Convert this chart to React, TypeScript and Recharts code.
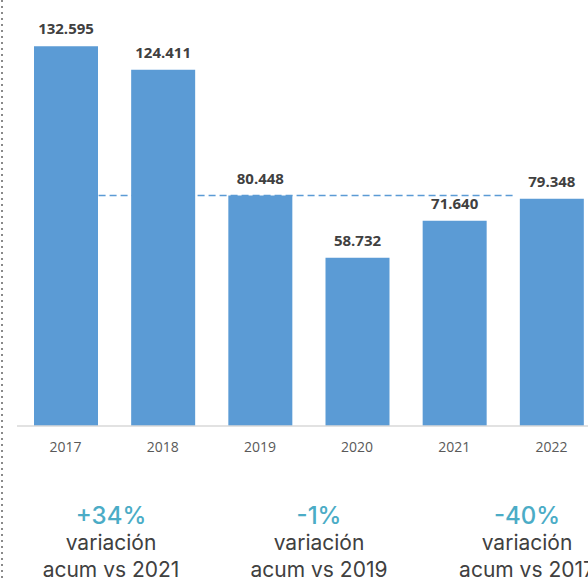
import React from 'react';
import { BarChart, Bar, XAxis, YAxis, LabelList, ReferenceLine } from 'recharts';

const years = ['2017', '2018', '2019', '2020', '2021', '2022'];
const totals = [132595, 124411, 80448, 58732, 71640, 79348];
const refLevel = 80448;

const variations = ['+34%', '-1%', '-40%'];
const comparedTo = ['2021', '2019', '2017'];

const data = years.map((year, i) => ({ year, total: totals[i] }));

const fmt = (v: number) => v.toLocaleString('de-DE');

const BLUE = '#5b9bd5';

// dashed line stops a little before the last bar
const TrimmedLine = (p: any) => (
  <line
    x1={p.x1}
    y1={p.y1}
    x2={p.x2 - 38}
    y2={p.y2}
    stroke={BLUE}
    strokeWidth={1.5}
    strokeDasharray="7 4"
  />
);

export default function App() {
  return (
    <div style={{ position: 'absolute', left: 0, top: 0, width: 588, height: 582, overflow: 'hidden', background: '#fff' }}>
      <div
        style={{
          position: 'absolute', left: 1, top: 0, width: 2, height: 582,
          background: 'repeating-linear-gradient(to bottom, #8a8a8a 0 2px, transparent 2px 6px)',
        }}
      />
      <BarChart
        width={600}
        height={470}
        data={data}
        margin={{ top: 25, right: 0, left: 17, bottom: 14 }}
        style={{ fontFamily: '"Open Sans", sans-serif' }}
      >
        <XAxis
          dataKey="year"
          height={30}
          axisLine={{ stroke: '#d9d9d9', strokeWidth: 1.5 }}
          tickLine={false}
          tickMargin={10}
          tick={{ fill: '#595959', fontSize: 14 }}
        />
        <YAxis hide domain={[0, 140000]} />
        <ReferenceLine
          segment={[{ x: '2017', y: refLevel }, { x: '2022', y: refLevel }]}
          shape={TrimmedLine}
          zIndex={250}
        />
        <Bar dataKey="total" fill={BLUE} barSize={64} isAnimationActive={false}>
          <LabelList
            dataKey="total"
            position="top"
            offset={12}
            formatter={(v: any) => fmt(Number(v))}
            style={{ fill: '#404040', fontSize: 15, fontWeight: 700 }}
          />
        </Bar>
      </BarChart>
      <div style={{ position: 'absolute', left: 7, top: 502, display: 'flex', fontFamily: 'Inter, sans-serif' }}>
        {variations.map((v, i) => (
          <div key={v} style={{ width: 208, textAlign: 'center', whiteSpace: 'nowrap' }}>
            <div style={{ fontSize: 24, lineHeight: '27px', fontWeight: 500, color: '#4bacc6' }}>{v}</div>
            <div style={{ fontSize: 21, lineHeight: '27px', color: '#404040' }}>variación</div>
            <div style={{ fontSize: 21, lineHeight: '27px', color: '#404040' }}>acum vs {comparedTo[i]}</div>
          </div>
        ))}
      </div>
    </div>
  );
}
